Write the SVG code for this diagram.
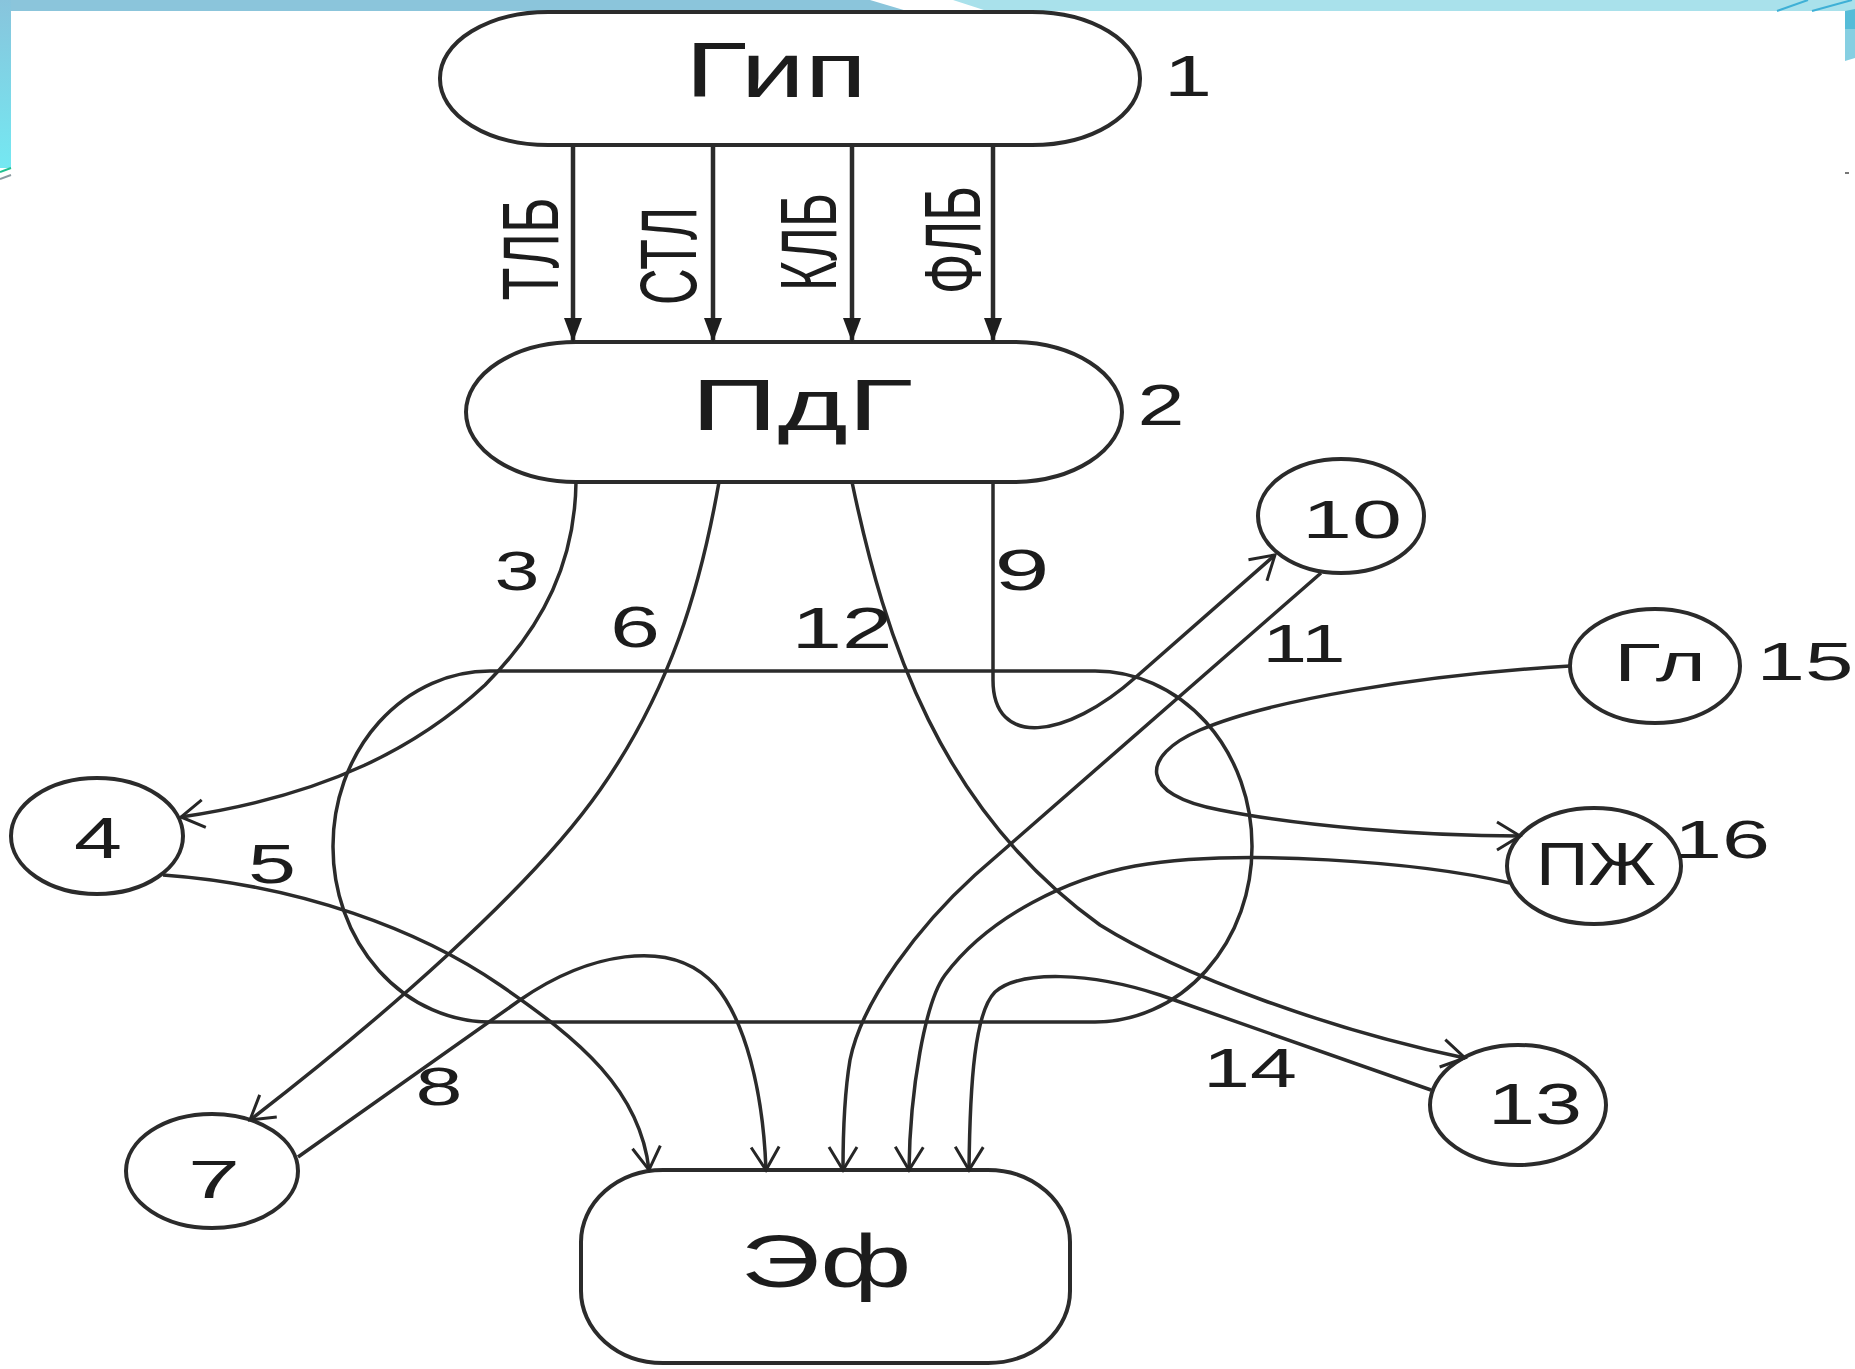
<svg xmlns="http://www.w3.org/2000/svg" width="1855" height="1369" viewBox="0 0 1855 1369">
  <defs>
    <linearGradient id="stripFill" x1="0" y1="0" x2="0" y2="1">
      <stop offset="0" stop-color="#88c4dc"/>
      <stop offset="1" stop-color="#74e8f2"/>
    </linearGradient>
    <!-- open V arrowhead for the curved connectors -->
    <marker id="openArrow" markerUnits="userSpaceOnUse" viewBox="-28 -18 32 36" refX="0" refY="0" markerWidth="32" markerHeight="36" orient="auto">
      <path d="M-23,-14 L0,0 L-23,14" fill="none" stroke="#262626" stroke-width="3"/>
    </marker>
    <!-- filled arrowhead for the four hormone arrows -->
    <marker id="solidArrow" markerUnits="userSpaceOnUse" viewBox="-28 -12 30 24" refX="0" refY="0" markerWidth="30" markerHeight="24" orient="auto">
      <path d="M-24,-9 L0,0 L-24,9 Z" fill="#1e1e1e"/>
    </marker>
  </defs>
  <style>
    .node { fill: #ffffff; stroke: #2b2b2b; stroke-width: 4; }
    .frame { fill: none; stroke: #2b2b2b; stroke-width: 3.5; }
    .edge { fill: none; stroke: #2b2b2b; stroke-width: 3.5; }
    .open { marker-end: url(#openArrow); }
    .solid { stroke-width: 4.5; marker-end: url(#solidArrow); }
    text { font-family: "Liberation Sans", Arial, sans-serif; fill: #1c1c1c; text-anchor: middle; }
  </style>

  <rect width="1855" height="1369" fill="#ffffff"/>

  <!-- slide decoration: top band, side strips -->
  <g id="decor">
    <polygon points="0,0 870,0 907,11 0,11" fill="#8bc5db"/>
    <polygon points="953,0 1855,0 1855,11 987,11" fill="#a9e1eb"/>
    <line x1="1777" y1="11" x2="1808" y2="0" stroke="#3fb0d6" stroke-width="2"/>
    <line x1="1812" y1="11" x2="1852" y2="0" stroke="#3fb0d6" stroke-width="2"/>
    <rect x="0" y="0" width="11" height="168" fill="url(#stripFill)"/>
    <line x1="0" y1="172" x2="11" y2="168" stroke="#20c090" stroke-width="2"/>
    <line x1="0" y1="179" x2="11" y2="175" stroke="#8a9aa0" stroke-width="2"/>
    <polygon points="1845,11 1855,9 1855,29 1845,29" fill="#55bcd8"/>
    <polygon points="1845,29 1855,29 1855,58 1845,61" fill="#86cfe2"/>
    <rect x="1845" y="172" width="4" height="2" fill="#777777"/>
  </g>

  <!-- nodes -->
  <g id="node-gip">
    <rect class="node" x="440" y="12" width="700" height="133" rx="108" ry="66"/>
    <text x="776" y="97" font-size="77" textLength="182" lengthAdjust="spacingAndGlyphs">Гип</text>
    <text x="1188" y="96" font-size="58" textLength="48" lengthAdjust="spacingAndGlyphs">1</text>
  </g>
  <g id="node-pdg">
    <rect class="node" x="466" y="342" width="656" height="140" rx="110" ry="70"/>
    <text x="802" y="430" font-size="73" textLength="222" lengthAdjust="spacingAndGlyphs">ПдГ</text>
    <text x="1161" y="425" font-size="58" textLength="47" lengthAdjust="spacingAndGlyphs">2</text>
  </g>
  <g id="node-body">
    <rect class="frame" x="333" y="671" width="919" height="351" rx="157" ry="175"/>
  </g>
  <g id="node-4">
    <ellipse class="node" cx="97" cy="836" rx="86" ry="58"/>
    <text x="98" y="858" font-size="57" textLength="48" lengthAdjust="spacingAndGlyphs">4</text>
  </g>
  <g id="node-7">
    <ellipse class="node" cx="212" cy="1171" rx="86" ry="57"/>
    <text x="214" y="1198" font-size="53" textLength="52" lengthAdjust="spacingAndGlyphs">7</text>
  </g>
  <g id="node-10">
    <ellipse class="node" cx="1341" cy="516" rx="83" ry="57"/>
    <text x="1352" y="538" font-size="54" textLength="100" lengthAdjust="spacingAndGlyphs">10</text>
  </g>
  <g id="node-gl">
    <ellipse class="node" cx="1655" cy="666" rx="85" ry="57"/>
    <text x="1660" y="681" font-size="53" textLength="92" lengthAdjust="spacingAndGlyphs">Гл</text>
    <text x="1805" y="680" font-size="53" textLength="97" lengthAdjust="spacingAndGlyphs">15</text>
  </g>
  <g id="node-pzh">
    <ellipse class="node" cx="1594" cy="866" rx="87" ry="58"/>
    <text x="1596" y="885" font-size="61" textLength="120" lengthAdjust="spacingAndGlyphs">ПЖ</text>
    <text x="1722" y="858" font-size="53" textLength="96" lengthAdjust="spacingAndGlyphs">16</text>
  </g>
  <g id="node-13">
    <ellipse class="node" cx="1518" cy="1105" rx="88" ry="60"/>
    <text x="1535" y="1124" font-size="57" textLength="94" lengthAdjust="spacingAndGlyphs">13</text>
  </g>
  <g id="node-ef">
    <rect class="node" x="581" y="1170" width="489" height="193" rx="82" ry="72"/>
    <text x="826" y="1287" font-size="75" textLength="171" lengthAdjust="spacingAndGlyphs">Эф</text>
  </g>

  <!-- connectors -->
  <g id="connectors">
    <line class="edge solid" x1="573" y1="145" x2="573" y2="342"/>
    <line class="edge solid" x1="713" y1="145" x2="713" y2="342"/>
    <line class="edge solid" x1="852" y1="145" x2="852" y2="342"/>
    <line class="edge solid" x1="993" y1="145" x2="993" y2="342"/>

    <!-- 3: ПдГ to 4 -->
    <path class="edge open" d="M576,482 C575,560 545,625 485,685 C420,745 330,795 181,817"/>
    <!-- 6: ПдГ to 7 -->
    <path class="edge open" d="M719,482 C700,590 670,690 600,790 C530,890 380,1020 250,1120"/>
    <!-- 12: ПдГ to 13 -->
    <path class="edge open" d="M852,482 C885,640 940,810 1100,925 C1180,975 1330,1030 1465,1058"/>
    <!-- 9: ПдГ to 10 -->
    <path class="edge open" d="M993,482 L993,680 C993,748 1065,740 1136,677 L1275,555"/>
    <!-- 5: 4 to Эф -->
    <path class="edge open" d="M163,875 C300,885 420,930 500,985 C580,1040 640,1090 649,1170"/>
    <!-- 8: 7 to Эф -->
    <path class="edge open" d="M298,1157 L520,1000 C585,955 670,935 715,985 C745,1020 763,1090 766,1170"/>
    <!-- 11: 10 to Эф -->
    <path class="edge open" d="M1321,573 L975,875 C920,925 862,1000 850,1060 C845,1090 843,1130 843,1170"/>
    <!-- Гл to ПЖ -->
    <path class="edge open" d="M1570,666 C1420,675 1270,700 1200,730 C1140,756 1138,795 1220,810 C1300,826 1420,836 1520,836"/>
    <!-- ПЖ to Эф -->
    <path class="edge open" d="M1510,883 C1420,862 1240,848 1135,866 C1070,878 990,915 945,975 C925,1002 910,1090 909,1170"/>
    <!-- 14: 13 to Эф -->
    <path class="edge open" d="M1431,1090 L1160,995 C1090,972 1020,970 995,992 C975,1012 970,1080 969,1170"/>
  </g>

  <!-- hormone labels along the vertical arrows -->
  <g id="hormone-labels">
    <text transform="translate(558,249) rotate(-90)" font-size="80" textLength="103" lengthAdjust="spacingAndGlyphs">ТЛБ</text>
    <text transform="translate(696,256) rotate(-90)" font-size="80" textLength="98" lengthAdjust="spacingAndGlyphs">СТЛ</text>
    <text transform="translate(836,242) rotate(-90)" font-size="80" textLength="98" lengthAdjust="spacingAndGlyphs">КЛБ</text>
    <text transform="translate(980,240) rotate(-90)" font-size="80" textLength="108" lengthAdjust="spacingAndGlyphs">ФЛБ</text>
  </g>

  <!-- connector numbers -->
  <g id="edge-labels">
    <text x="517" y="590" font-size="56" textLength="45" lengthAdjust="spacingAndGlyphs">3</text>
    <text x="635" y="647" font-size="58" textLength="50" lengthAdjust="spacingAndGlyphs">6</text>
    <text x="842" y="648" font-size="57" textLength="101" lengthAdjust="spacingAndGlyphs">12</text>
    <text x="1022" y="590" font-size="58" textLength="55" lengthAdjust="spacingAndGlyphs">9</text>
    <text x="1304" y="662" font-size="54" textLength="83" lengthAdjust="spacingAndGlyphs">11</text>
    <text x="272" y="883" font-size="56" textLength="48" lengthAdjust="spacingAndGlyphs">5</text>
    <text x="439" y="1105" font-size="53" textLength="47" lengthAdjust="spacingAndGlyphs">8</text>
    <text x="1250" y="1087" font-size="56" textLength="94" lengthAdjust="spacingAndGlyphs">14</text>
  </g>
</svg>
